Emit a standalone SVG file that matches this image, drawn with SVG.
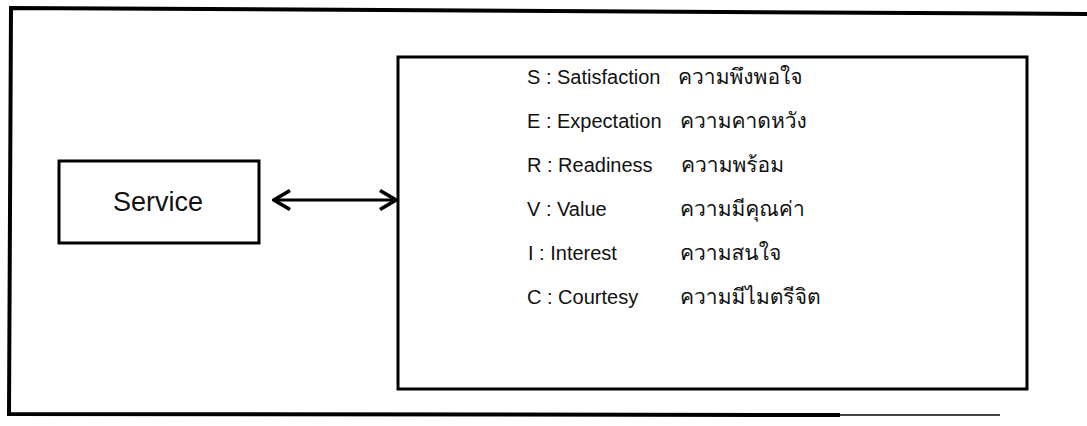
<svg xmlns="http://www.w3.org/2000/svg" width="1087" height="426" viewBox="0 0 1087 426">
<defs>
<style>
.frame{fill:none;stroke:#000;stroke-width:4}
.frame2{fill:none;stroke:#444;stroke-width:2}
.box{fill:#fff;stroke:#000;stroke-width:3}
.lat{font-family:"Liberation Sans",Arial,sans-serif;font-size:20px;fill:#111}
.th{font-family:"Loma","Kinnari","Norasi","Noto Sans Thai Looped","Noto Serif Thai","Noto Sans Thai","Noto Sans","DejaVu Sans",sans-serif;font-size:21px;fill:#111}
.svc{font-family:"Liberation Sans",Arial,sans-serif;font-size:27px;fill:#111}
.conn{fill:none;stroke:#000;stroke-width:3}
</style>
<marker id="ah" viewBox="0 0 22 22" refX="20" refY="11" markerWidth="22" markerHeight="22" markerUnits="userSpaceOnUse" orient="auto-start-reverse">
<path d="M4 1.5 L20 11 L4 20.5" fill="none" stroke="#000" stroke-width="3.6"/>
</marker>
</defs>
<rect width="1087" height="426" fill="#fff"/>
<g id="frame">
<path class="frame" d="M1087 14 L11 8 L9 414 L840 415"/>
<path class="frame2" d="M840 415 L1000 415"/>
</g>
<g id="service">
<rect class="box" x="59" y="161" width="200" height="82"/>
<text class="svc" x="158" y="211" text-anchor="middle">Service</text>
</g>
<g id="servqual">
<rect class="box" x="398" y="57" width="629" height="332"/>
<text class="lat" x="527" y="84">S : Satisfaction</text>
<text class="th" x="678" y="84">ความพึงพอใจ</text>
<text class="lat" x="527" y="128">E : Expectation</text>
<text class="th" x="680" y="128">ความคาดหวัง</text>
<text class="lat" x="527" y="172">R : Readiness</text>
<text class="th" x="681" y="172">ความพร้อม</text>
<text class="lat" x="527" y="216">V : Value</text>
<text class="th" x="680" y="216">ความมีคุณค่า</text>
<text class="lat" x="528" y="260">I : Interest</text>
<text class="th" x="680" y="260">ความสนใจ</text>
<text class="lat" x="527" y="304">C : Courtesy</text>
<text class="th" x="680" y="304">ความมีไมตรีจิต</text>
</g>
<g id="connectors">
<line class="conn" x1="274" y1="200" x2="396" y2="200" marker-start="url(#ah)" marker-end="url(#ah)"/>
</g>
</svg>
